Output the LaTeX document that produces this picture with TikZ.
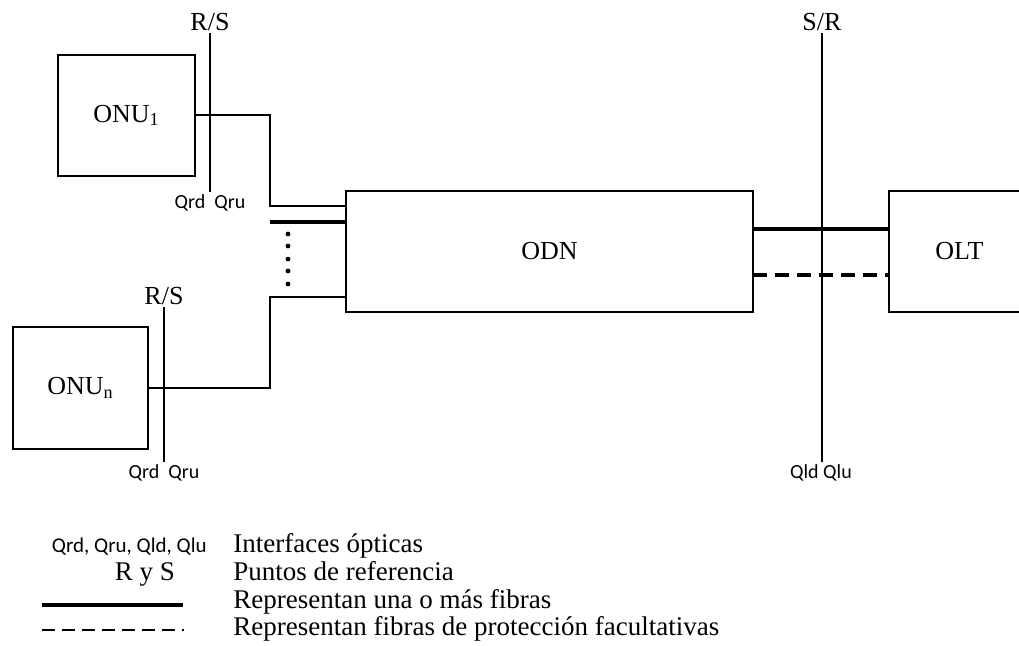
\documentclass[tikz,border=0pt]{standalone}
\usepackage{fontspec}
\setmainfont{Liberation Serif}
\newfontfamily\qfont{Carlito}
\usetikzlibrary{positioning}

\begin{document}
\begin{tikzpicture}[x=0.5pt, y=-0.5pt,
  box/.style={draw, line width=1.4pt, inner sep=0pt, font=\fontsize{13}{15}\selectfont},
  link/.style={line width=1pt},
  fiber/.style={line width=2pt},
  protect/.style={line width=1.6pt, dash pattern=on 7pt off 4pt},
  refline/.style={line width=0.7pt},
  reflabel/.style={font=\fontsize{13}{15}\selectfont, inner sep=1pt},
  iflabel/.style={font=\qfont\fontsize{10}{12}\selectfont, inner sep=1pt},
  legtext/.style={anchor=base west, font=\fontsize{13.5}{16}\selectfont, inner sep=0pt}]
  \useasboundingbox (0,0) rectangle (1019,646);
  \clip (0,0) rectangle (1019,646);

  % Boxes
  \node[box, minimum width=68.5pt, minimum height=60.5pt] (onu1) at (126.5,115.5) {ONU\textsubscript{1}};
  \node[box, minimum width=67.5pt, minimum height=61pt] (onun) at (80.5,388) {ONU\textsubscript{n}};
  \node[box, minimum width=203.5pt, minimum height=60.5pt] (odn) at (549.5,251.5) {ODN};
  \node[box, minimum width=70.5pt, minimum height=60.5pt] (olt) at (959.5,251.5) {OLT};

  % ONU side
  \coordinate (j1) at (270,206);
  \coordinate (j0) at (270,222);
  \coordinate (j2) at (270,297);
  \draw[link] (onu1.east) -| (j1) -- (j1 -| odn.west);
  \draw[fiber] (j0) -- (j0 -| odn.west);
  \draw[link] (onun.east) -| (j2) -- (j2 -| odn.west);
  \foreach \y in {234,246,259,271,284}
    \fill (288,\y) circle (1.2pt);

  % OLT side
  \coordinate (p1) at (753,229);
  \coordinate (p2) at (753,275);
  \draw[fiber] (p1) -- (p1 -| olt.west);
  \draw[protect] (p2) -- (p2 -| olt.west);

  % Reference points
  \node[reflabel] (rs1) at (210,22) {R/S};
  \node[iflabel] (q1) at (210,203) {Qrd\hspace{0.45em}Qru};
  \draw[refline] (rs1.south) -- (rs1.south |- q1.north);
  \node[reflabel] (rs2) at (164,296) {R/S};
  \node[iflabel] (q2) at (164,473) {Qrd\hspace{0.45em}Qru};
  \draw[refline] (rs2.south) -- (rs2.south |- q2.north);
  \node[reflabel] (sr) at (822,22) {S/R};
  \node[iflabel] (q3) at (821,473) {Qld Qlu};
  \draw[refline] (sr.south) -- (sr.south |- q3.north);

  % Legend
  \node[iflabel, font=\qfont\fontsize{10.5}{12}\selectfont, anchor=base east, inner sep=0pt] (lq) at (207,553) {Qrd, Qru, Qld, Qlu};
  \node[legtext] (t1) at (233,553) {Interfaces ópticas};
  \node[font=\fontsize{13.5}{16}\selectfont, anchor=base, inner sep=0pt] (lrs) at (145,581) {R y S};
  \node[legtext] (t2) at (233,581) {Puntos de referencia};
  \coordinate (la) at (42,605);
  \coordinate (lb) at (183,605);
  \draw[fiber] (la) -- (lb);
  \node[legtext] (t3) at (233,609) {Representan una o más fibras};
  \coordinate (lc) at (42,630);
  \coordinate (ld) at (184,630);
  \draw[line width=1.4pt, dash pattern=on 6.5pt off 3.5pt] (lc) -- (ld);
  \node[legtext] (t4) at (233,636) {Representan fibras de protección facultativas};
\end{tikzpicture}
\end{document}
